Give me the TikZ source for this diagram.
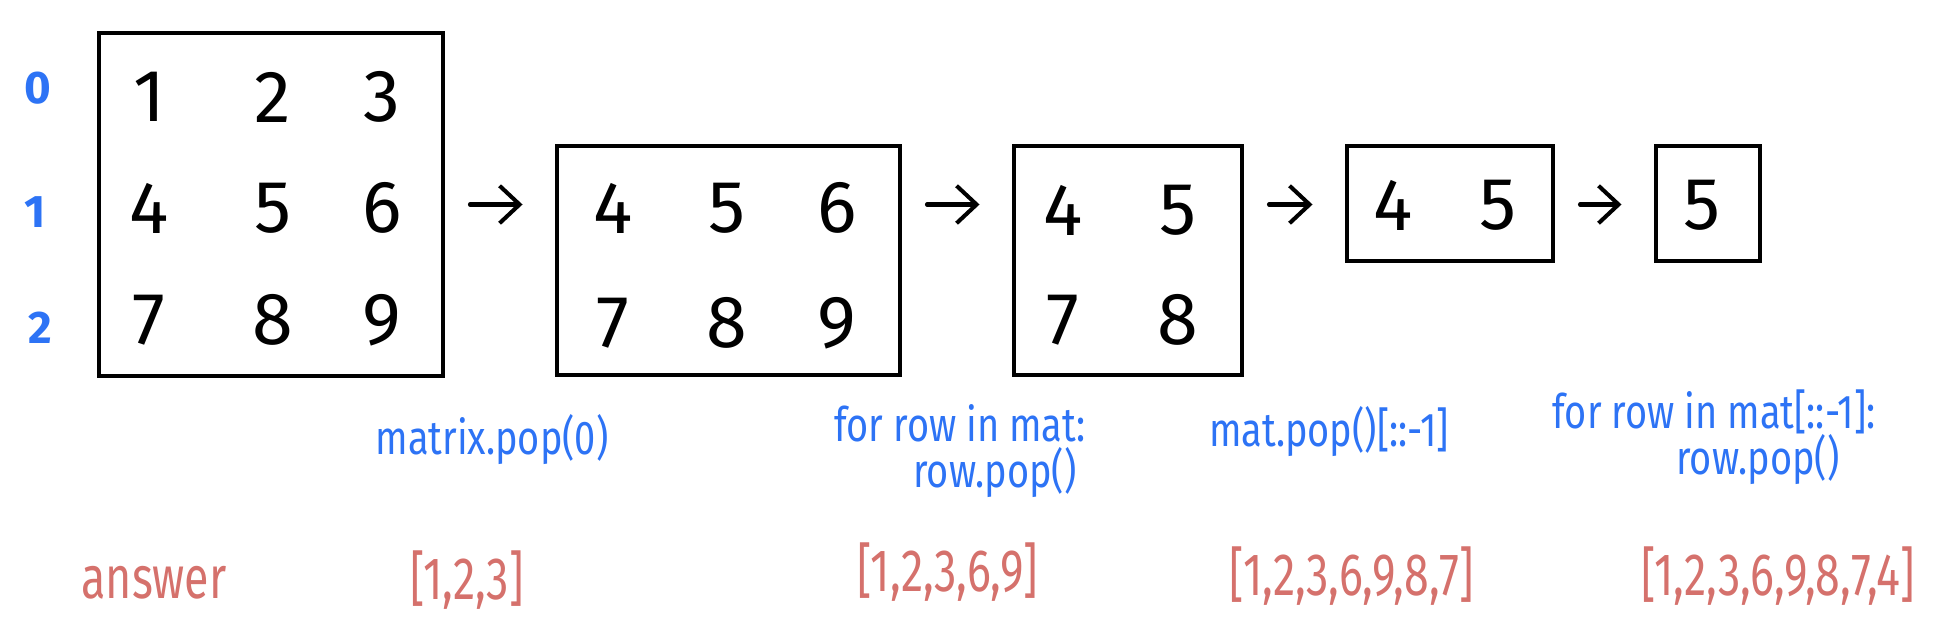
\documentclass[tikz,border=0pt]{standalone}
\usepackage{fontspec}
\setmainfont{Fira Sans}
\newfontfamily\handfont[FakeStretch=0.8]{Fira Sans}
\newfontfamily\redfont[FakeStretch=0.75]{Fira Sans}
\usepackage{tikz}
\usetikzlibrary{arrows.meta, positioning}

\begin{document}
\begin{tikzpicture}[x=0.02cm, y=-0.02cm,
    box/.style={rectangle, draw, line width=2.3pt, inner sep=0pt},
    num/.style={font=\fontsize{42}{42}\selectfont, inner sep=0pt},
    idx/.style={font=\bfseries\fontsize{26}{26}\selectfont, text=opblue, inner sep=0pt},
    op/.style={font=\handfont\fontsize{27}{27}\selectfont, text=opblue, inner sep=0pt},
    res/.style={font=\redfont\fontsize{34}{34}\selectfont, text=ansred, inner sep=0pt},
    arrow/.style={-{Straight Barb[length=4mm, width=7.5mm]}, line width=2.3pt, line cap=round,
        shorten <=5mm, shorten >=6.5mm}]

    % Define colors
    \definecolor{opblue}{RGB}{45,115,245}
    \definecolor{ansred}{RGB}{213,113,108}

    \useasboundingbox (0,0) rectangle (1952,636);

    % Boxes
    \node[box, minimum width=6.88cm, minimum height=6.86cm] (b1) at (271,204.5) {};
    \node[box, minimum width=6.86cm, minimum height=4.58cm] (b2) at (728.5,260.5) {};
    \node[box, minimum width=4.56cm, minimum height=4.58cm] (b3) at (1128,260.5) {};
    \node[box, minimum width=4.12cm, minimum height=2.3cm] (b4) at (1450,203.5) {};
    \node[box, minimum width=2.08cm, minimum height=2.3cm] (b5) at (1708,203.5) {};

    % Row indices
    \node[idx] (r0) at (38,88) {0};
    \node[idx] (r1) at (35,212) {1};
    \node[idx] (r2) at (40,328) {2};

    % Numbers
    \node[num] (m1) at (149,97) {1};
    \node[num] (m2) at (273,97) {2};
    \node[num] (m3) at (382,97) {3};
    \node[num] (m4) at (149,208) {4};
    \node[num] (m5) at (273,208) {5};
    \node[num] (m6) at (382,208) {6};
    \node[num] (m7) at (149,320) {7};
    \node[num] (m8) at (273,320) {8};
    \node[num] (m9) at (382,320) {9};

    \node[num] (p4) at (613,208) {4};
    \node[num] (p5) at (727,208) {5};
    \node[num] (p6) at (837,208) {6};
    \node[num] (p7) at (613,323) {7};
    \node[num] (p8) at (727,323) {8};
    \node[num] (p9) at (837,323) {9};

    \node[num] (q4) at (1063,210) {4};
    \node[num] (q5) at (1178,210) {5};
    \node[num] (q7) at (1063,320) {7};
    \node[num] (q8) at (1178,320) {8};

    \node[num] (s4) at (1393,205) {4};
    \node[num] (s5) at (1498,205) {5};

    \node[num] (t5) at (1702,205) {5};

    % Arrows
    \draw[arrow] (b1.east) -- (b1.east -| b2.west);
    \draw[arrow] (b2.east |- b1.east) -- (b3.west |- b1.east);
    \draw[arrow] (b3.east |- b1.east) -- (b4.west |- b1.east);
    \draw[arrow] (b4.east |- b1.east) -- (b5.west |- b1.east);

    % Operations
    \node[op] (op1) at (492,440) {matrix.pop(0)};
    \node[op] (op2) at (960,423) {for row in mat:};
    \node[op] (op2b) at (995,473) {row.pop()};
    \node[op] (op3) at (1329,432) {mat.pop()[::-1]};
    \node[op] (op4) at (1714,412) {for row in mat[::-1]:};
    \node[op] (op4b) at (1758,460) {row.pop()};

    % Answers
    \node[res] (ans) at (154,583) {answer};
    \node[res] (a1) at (467,580) {[1,2,3]};
    \node[res] (a2) at (948,572) {[1,2,3,6,9]};
    \node[res] (a3) at (1352,576) {[1,2,3,6,9,8,7]};
    \node[res] (a4) at (1778,576) {[1,2,3,6,9,8,7,4]};

\end{tikzpicture}
\end{document}
